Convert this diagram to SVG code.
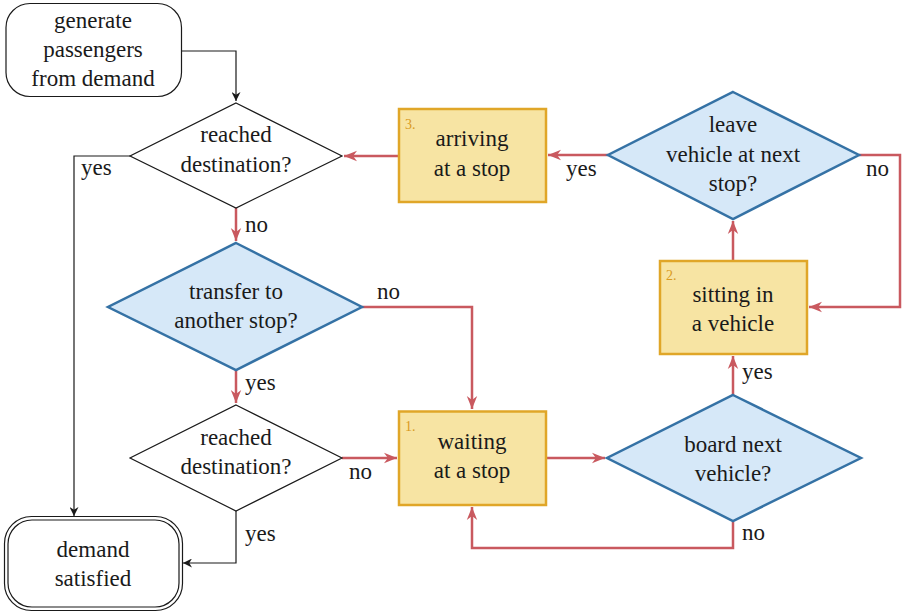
<svg xmlns="http://www.w3.org/2000/svg" width="903" height="612" viewBox="0 0 903 612" font-family="'Liberation Serif', 'DejaVu Serif', 'Times New Roman', serif">
<style>
text{font-family:'Liberation Serif','DejaVu Serif','Times New Roman',serif;font-size:23px;fill:#1a1a1a;text-anchor:middle}
.lbl{text-anchor:start}
.num{font-size:14px;fill:#d99a1e;text-anchor:start}
.term{fill:#fff;stroke:#1a1a1a;stroke-width:1.2}
.dec{fill:#fff;stroke:#1a1a1a;stroke-width:1.2}
.bdec{fill:#d6e8f8;stroke:#3572a5;stroke-width:2.5;stroke-linejoin:miter}
.state{fill:#f7e4a3;stroke:#e0a628;stroke-width:2.5}
.k{fill:none;stroke:#1a1a1a;stroke-width:1.2}
.r{fill:none;stroke:#c9595f;stroke-width:2.5}
</style>
<defs>
<marker id="ak" viewBox="0 0 10 10" refX="10" refY="5" markerWidth="9" markerHeight="9" markerUnits="userSpaceOnUse" orient="auto">
<path d="M0,0 L10,5 L0,10 L3,5 z" fill="#1a1a1a"/>
</marker>
<marker id="ar" viewBox="0 0 10 10" refX="10" refY="5" markerWidth="13" markerHeight="13" markerUnits="userSpaceOnUse" orient="auto">
<path d="M0,1 L10,5 L0,9 L3,5 z" fill="#c9595f"/>
</marker>
</defs>

<g id="connectors">
<path class="k" d="M181,51 H236 V101" marker-end="url(#ak)"/>
<path class="k" d="M130,156 H74 V516" marker-end="url(#ak)"/>
<path class="k" d="M236,511 V563 H183" marker-end="url(#ak)"/>
<path class="r" d="M236,208 V241" marker-end="url(#ar)"/>
<path class="r" d="M236,369 V403" marker-end="url(#ar)"/>
<path class="r" d="M362,307 H472 V409" marker-end="url(#ar)"/>
<path class="r" d="M342,458 H397" marker-end="url(#ar)"/>
<path class="r" d="M546,458 H605" marker-end="url(#ar)"/>
<path class="r" d="M733,522 V548 H472 V507" marker-end="url(#ar)"/>
<path class="r" d="M733,395 V356" marker-end="url(#ar)"/>
<path class="r" d="M733,260 V221" marker-end="url(#ar)"/>
<path class="r" d="M859,155 H900 V307 H809" marker-end="url(#ar)"/>
<path class="r" d="M608,155 H548" marker-end="url(#ar)"/>
<path class="r" d="M399,156 H344" marker-end="url(#ar)"/>
<text class="lbl" x="81" y="175">yes</text>
<text class="lbl" x="245" y="232">no</text>
<text class="lbl" x="377" y="299">no</text>
<text class="lbl" x="245" y="390">yes</text>
<text class="lbl" x="349" y="479">no</text>
<text class="lbl" x="245" y="541">yes</text>
<text class="lbl" x="742" y="540">no</text>
<text class="lbl" x="742" y="379">yes</text>
<text class="lbl" x="866" y="176">no</text>
<text class="lbl" x="566" y="176">yes</text>
</g>

<g id="start">
<rect class="term" x="6" y="3.5" width="175.5" height="93" rx="24"/>
<text x="93" y="28">generate</text>
<text x="93" y="57">passengers</text>
<text x="93" y="86">from demand</text>
</g>

<g id="reached1">
<polygon class="dec" points="236,103 342,156 236,208 130,156"/>
<text x="236" y="142">reached</text>
<text x="236" y="172">destination?</text>
</g>

<g id="transfer">
<polygon class="bdec" points="236,243 362,307 236,370 108,307"/>
<text x="236" y="299">transfer to</text>
<text x="236" y="328">another stop?</text>
</g>

<g id="reached2">
<polygon class="dec" points="236,405 342,458 236,511 130,458"/>
<text x="236" y="445">reached</text>
<text x="236" y="474">destination?</text>
</g>

<g id="waiting">
<rect class="state" x="399" y="411.5" width="147" height="93.5"/>
<text class="num" x="405" y="431">1.</text>
<text x="472" y="449">waiting</text>
<text x="472" y="478">at a stop</text>
</g>

<g id="board">
<polygon class="bdec" points="733,395 861,458 733,521 607,458"/>
<text x="733" y="452">board next</text>
<text x="733" y="481">vehicle?</text>
</g>

<g id="sitting">
<rect class="state" x="660" y="261" width="147" height="93"/>
<text class="num" x="666" y="280">2.</text>
<text x="733" y="302">sitting in</text>
<text x="733" y="331">a vehicle</text>
</g>

<g id="leave">
<polygon class="bdec" points="733,92 859,155 733,219 608,155"/>
<text x="733" y="132">leave</text>
<text x="733" y="162">vehicle at next</text>
<text x="733" y="191">stop?</text>
</g>

<g id="arriving">
<rect class="state" x="399" y="109" width="147" height="93"/>
<text class="num" x="405" y="129">3.</text>
<text x="472" y="146">arriving</text>
<text x="472" y="176">at a stop</text>
</g>

<g id="end">
<rect class="term" x="4.5" y="516.5" width="178" height="94" rx="27"/>
<rect class="term" x="8" y="520" width="171" height="87" rx="24"/>
<text x="93" y="557">demand</text>
<text x="93" y="586">satisfied</text>
</g>
</svg>
